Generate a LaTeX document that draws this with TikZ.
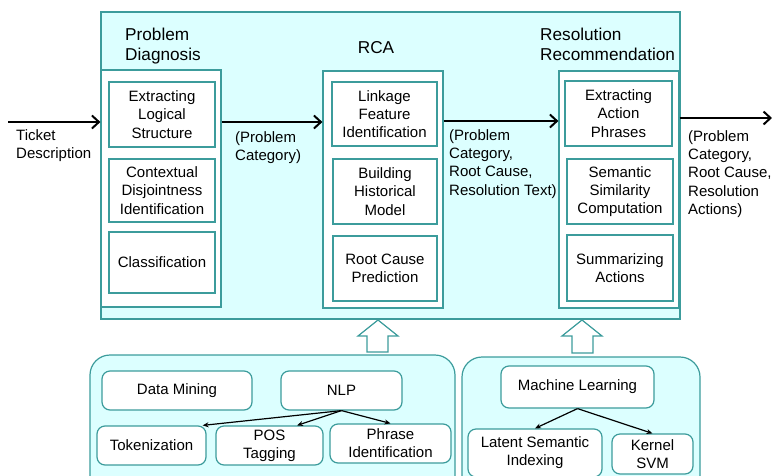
\documentclass[tikz,border=0pt]{standalone}
\usepackage{fontspec}
\setmainfont{Liberation Sans}
\usetikzlibrary{arrows.meta}
\definecolor{tealline}{HTML}{3C9C9C}
\definecolor{cyanbg}{HTML}{DCFFFF}
\tikzset{
  body/.style={font=\fontsize{15}{18.2}\selectfont, align=center},
  title/.style={font=\fontsize{17.2}{20}\selectfont, align=left, inner sep=0pt},
  lbl/.style={font=\fontsize{15}{18.2}\selectfont, align=left, inner sep=0pt, anchor=west},
  panel/.style={draw=tealline, fill=cyanbg, line width=1.2pt},
  column/.style={draw=tealline, fill=white, line width=1.2pt, inner sep=0pt},
  stepbox/.style={body, draw=tealline, fill=white, line width=1.3pt, inner sep=0pt},
  toolbox/.style={body, draw=tealline, fill=white, line width=1.2pt, inner sep=0pt, rounded corners=8pt},
  flow/.style={line width=2pt, -{Straight Barb[length=7pt,width=13pt,line width=2pt]}},
  sub/.style={line width=1.2pt, -{Stealth[length=6pt,width=5pt]}},
  hollow/.style={draw=tealline, fill=white, line width=1.2pt, line join=miter}
}
\begin{document}
\begin{tikzpicture}[x=1pt,y=-1pt]
\useasboundingbox (0,0) rectangle (772,475);
\clip (0,0) rectangle (772,475);

% main pipeline panel
\node[panel, minimum width=579pt, minimum height=307pt, inner sep=0pt] (main) at (390.5,165.5) {};

% the three stage columns
\node[column, minimum width=120pt, minimum height=237pt] (pd) at (161,188.5) {};
\node[column, minimum width=120pt, minimum height=237pt] (rca) at (383,189.5) {};
\node[column, minimum width=120pt, minimum height=237pt] (rr) at (619,189.5) {};

% stage titles
\node[title, anchor=north west] (pdt) at (125,28) {Problem\\Diagnosis};
\node[title] (rcat) at (376,48) {RCA};
\node[title, anchor=north west] (rrt) at (540,28) {Resolution\\Recommendation};

% Problem Diagnosis steps
\node[stepbox, minimum width=106pt, minimum height=65pt] (e1) at (162,114.5) {Extracting\\Logical\\Structure};
\node[stepbox, minimum width=106pt, minimum height=63pt] (e2) at (162,190.5) {Contextual\\Disjointness\\Identification};
\node[stepbox, minimum width=106pt, minimum height=61pt] (e3) at (162,262.5) {Classification};

% RCA steps
\node[stepbox, minimum width=105pt, minimum height=64pt] (r1) at (384.5,114) {Linkage\\Feature\\Identification};
\node[stepbox, minimum width=104pt, minimum height=65pt] (r2) at (385,191.5) {Building\\Historical\\Model};
\node[stepbox, minimum width=104pt, minimum height=65pt] (r3) at (385,268.5) {Root Cause\\Prediction};

% Resolution Recommendation steps
\node[stepbox, minimum width=107pt, minimum height=65pt] (s1) at (618.5,113.5) {Extracting\\Action\\Phrases};
\node[stepbox, minimum width=106pt, minimum height=65pt] (s2) at (620,191.5) {Semantic\\Similarity\\Computation};
\node[stepbox, minimum width=106pt, minimum height=66pt] (s3) at (620,268) {Summarizing\\Actions};

% flow between stages
\coordinate (in) at (8,122);
\coordinate (out) at (772,118);
\draw[flow] (in) -- (in -| pd.west);
\draw[flow] (pd.east |- 0,122) -- (rca.west |- 0,122);
\draw[flow] (rca.east |- 0,121) -- (rr.west |- 0,121);
\draw[flow] (rr.east |- out) -- (out);

\node[lbl] (tin) at (16,146) {Ticket\\Description};
\node[lbl] (t1) at (235,148) {(Problem\\Category)};
\node[lbl] (t2) at (449,164) {(Problem\\Category,\\Root Cause,\\Resolution Text)};
\node[lbl] (t3) at (688,174) {(Problem\\Category,\\Root Cause,\\Resolution\\Actions)};

% technique panels
\draw[panel, rounded corners=20pt] (90,355) rectangle (455,520);
\draw[panel, rounded corners=20pt] (462,357) rectangle (700,520);

% hollow up arrows into the pipeline
\draw[hollow] (378,320) -- (398,336) -- (388,336) -- (388,352) -- (367,352) -- (367,336) -- (358,336) -- cycle;
\draw[hollow] (582,320) -- (602,336) -- (593,336) -- (593,353) -- (572,353) -- (572,336) -- (562,336) -- cycle;

% text mining techniques
\node[toolbox, minimum width=150pt, minimum height=39pt] (dm) at (177,390.5) {Data Mining};
\node[toolbox, minimum width=121pt, minimum height=39pt] (nlp) at (341.5,390.5) {NLP};
\node[toolbox, minimum width=109pt, minimum height=39pt] (tok) at (151.5,445.5) {Tokenization};
\node[toolbox, minimum width=107pt, minimum height=39pt] (pos) at (269.5,445.5) {POS\\Tagging};
\node[toolbox, minimum width=121pt, minimum height=39pt] (phr) at (390.5,443.5) {Phrase\\Identification};

\draw[sub] (nlp.south) -- ([xshift=-4pt]tok.north east);
\draw[sub] (nlp.south) -- ([xshift=27.5pt]pos.north);
\draw[sub] (nlp.south) -- (phr.north);

% machine learning techniques
\node[toolbox, minimum width=153pt, minimum height=42pt] (ml) at (577.5,387) {Machine Learning};
\node[toolbox, minimum width=134pt, minimum height=48pt] (lsi) at (535,453) {Latent Semantic\\Indexing};
\node[toolbox, minimum width=81pt, minimum height=40pt] (ksvm) at (652.5,454) {Kernel\\SVM};

\draw[sub] (ml.south) -- (lsi.north);
\draw[sub] (ml.south) -- (ksvm.north);
\end{tikzpicture}
\end{document}
